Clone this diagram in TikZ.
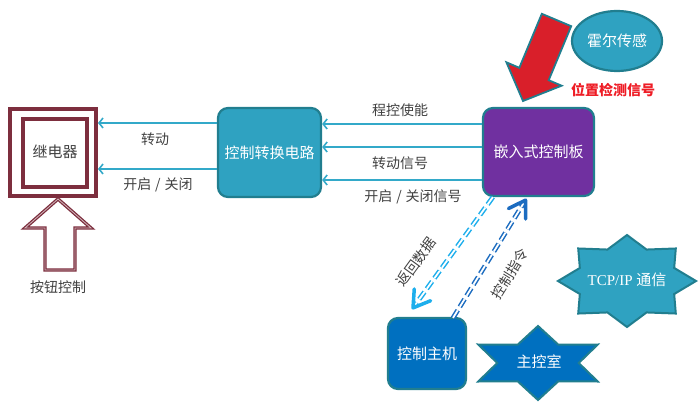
\documentclass[tikz,border=0pt]{standalone}
\usepackage{fontspec}
\setmainfont{Liberation Serif}
\newfontfamily\cjk{Noto Sans CJK SC}
\usetikzlibrary{positioning,arrows.meta,calc,shapes.geometric}
\definecolor{ctteal}{HTML}{2FA2C1}
\definecolor{ctedge}{HTML}{217E8F}
\definecolor{ctline}{HTML}{33A9C9}
\definecolor{ctpurple}{HTML}{7030A0}
\definecolor{ctblue}{HTML}{0070C0}
\definecolor{ctmaroon}{HTML}{7D2E3E}
\definecolor{ctred}{HTML}{D91F2A}
\definecolor{ctlabelred}{HTML}{EE1C25}
\definecolor{ctgray}{HTML}{404040}
\definecolor{ctret}{HTML}{1DAEEC}
\definecolor{ctcmd}{HTML}{1C6CC0}
\newcommand{\slashsep}{\hskip4pt/\hskip4pt}
\tikzset{
  box/.style     ={draw=ctedge, line width=2.2pt, rounded corners=10pt, text=white,
                   font=\cjk\fontsize{15}{17}\selectfont, inner sep=0pt},
  relaybox/.style={draw=ctmaroon, line width=4pt, inner sep=0pt},
  lbl/.style     ={font=\cjk\fontsize{14}{16}\selectfont, text=ctgray, inner sep=1pt},
  intxt/.style   ={font=\cjk\fontsize{15}{17}\selectfont, text=white, inner sep=1pt},
  sig/.style     ={ctline, line width=1.6pt, -{Straight Barb[length=4pt,width=10pt]}},
  dbl/.style     ={line width=1.5pt, double=white, double distance=1.8pt,
                   dash pattern=on 9pt off 4pt},
  barb/.style    ={line width=3.5pt, line cap=round, line join=round},
  starfill/.style={draw=ctedge, line width=2pt, line join=miter},
}
\begin{document}
\begin{tikzpicture}[x=1pt,y=-1pt]
    \useasboundingbox (0,0) rectangle (700,403);
    % --- relay and push button ---
    \node[relaybox,minimum width=86pt,minimum height=87pt] (relay) at (53,152.5) {};
    \node[relaybox,minimum width=64pt,minimum height=68pt] (relayin) at (54.5,153) {};
    \node[font=\cjk\fontsize{15}{17}\selectfont,text=ctgray] (relaytxt) at (55,152) {继电器};
    \draw[draw=ctmaroon,line width=1.3pt,double=ctmaroon!35,double distance=0.8pt,fill=white,line join=miter]
      (58,199) -- (91,228) -- (75,228) -- (75,270) -- (45,270) -- (45,228) -- (25,228) -- cycle;
    \node[lbl] (btn) at (58,287) {按钮控制};
    % --- switching circuit ---
    \node[box,fill=ctteal,minimum width=103pt,minimum height=89pt] (switch) at (269.5,152.5) {控制转换电路};
    \draw[sig] (switch.west |- 0,123) -- (relay.east |- 0,123);
    \draw[sig] (switch.west |- 0,169) -- (relay.east |- 0,169);
    \node[lbl] (turn) at (155,139) {转动};
    \node[lbl] (onoff) at (158,185) {开启\slashsep 关闭};
    % --- embedded board ---
    \node[box,fill=ctpurple,minimum width=111pt,minimum height=88pt] (board) at (538.5,152) {嵌入式控制板};
    \foreach \y in {124,147,180}
      \draw[sig] (board.west |- 0,\y) -- (switch.east |- 0,\y);
    \node[lbl] (enable) at (400,110) {程控使能};
    \node[lbl] (turnsig) at (400,163) {转动信号};
    \node[lbl] (onoffsig) at (413,197) {开启\slashsep 关闭信号};
    % --- hall sensor ---
    \node[ellipse,draw=ctedge,line width=2.2pt,fill=ctteal,minimum width=90pt,minimum height=60pt,
          intxt] (hall) at (617,41) {霍尔传感};
    \draw[draw=ctedge,line width=1.8pt,fill=ctred,line join=miter]
      (571.2,26.2) -- (548.7,80.2) -- (561.6,85.7) -- (523,101) -- (506.4,62.3)
      -- (519.3,67.8) -- (541.8,13.8) -- cycle;
    \node[font=\cjk\bfseries\fontsize{14}{16}\selectfont,text=ctlabelred] (pos) at (613,90) {位置检测信号};
    % --- control host ---
    \node[box,fill=ctblue,minimum width=78pt,minimum height=71pt] (host) at (427,353.5) {控制主机};
    \coordinate (retA) at ($(board.south west)+(11,0)$);
    \coordinate (retB) at ($(host.north)+(-14,-9)$);
    \coordinate (cmdA) at ($(host.north)+(26,1)$);
    \coordinate (cmdB) at ($(board.south)+(-13,3)$);
    \draw[dbl,ctret] (retA) -- ($(retB)!2pt!(retA)$);
    \draw[barb,ctret] ($(retB)!19pt!32:(retA)$) -- (retB) -- ($(retB)!19pt!-32:(retA)$);
    \draw[dbl,ctcmd] (cmdA) -- ($(cmdB)!2pt!(cmdA)$);
    \draw[barb,ctcmd] ($(cmdB)!19pt!32:(cmdA)$) -- (cmdB) -- ($(cmdB)!19pt!-32:(cmdA)$);
    \node[lbl,rotate=54] (ret) at (416,262) {返回数据};
    \node[lbl,rotate=58] (cmd) at (510,274) {控制指令};
    % --- control room ---
    \begin{scope}[shift={(538,363)}]
      \draw[starfill,fill=ctblue] plot[samples at={0,...,11},variable=\k]
        ({69*ifthenelse(mod(\k,2)==0,1,0.59)*cos(90+30*\k)},{37*ifthenelse(mod(\k,2)==0,1,0.57)*sin(90+30*\k)}) -- cycle;
      \node[intxt] (room) at (1,-1) {主控室};
    \end{scope}
    % --- tcp/ip ---
    \begin{scope}[shift={(627,281)}]
      \draw[starfill,fill=ctteal] plot[samples at={0,...,15},variable=\k]
        ({69*ifthenelse(mod(\k,2)==0,1,0.74)*cos(22.5*\k)},{46*ifthenelse(mod(\k,2)==0,1,0.74)*sin(22.5*\k)}) -- cycle;
      \node[intxt] (tcp) at (0,-1) {\fontsize{15}{17}\selectfont\rmfamily TCP/IP \cjk 通信};
    \end{scope}
\end{tikzpicture}
\end{document}
